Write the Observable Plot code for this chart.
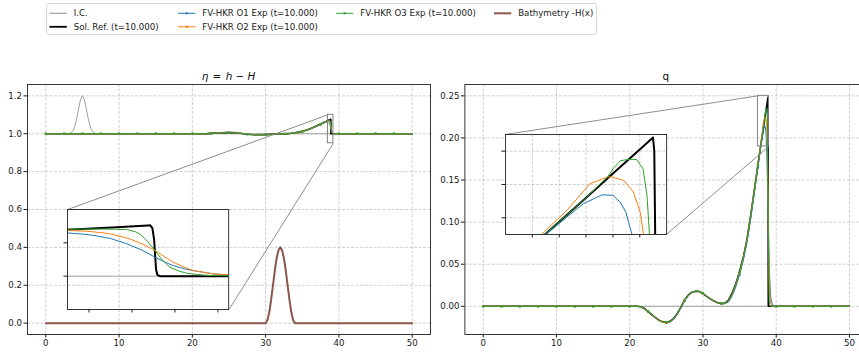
<!DOCTYPE html>
<html><head><meta charset="utf-8">
<script src="https://cdn.jsdelivr.net/npm/d3@7"></script>
<script src="https://cdn.jsdelivr.net/npm/@observablehq/plot@0.6"></script>
<style>
html,body{margin:0;padding:0;background:#fff;}
#root{position:relative;width:859px;height:352px;overflow:hidden;font-family:"DejaVu Sans",sans-serif;color:#000;}
#root svg{position:absolute;}
.title{position:absolute;font-size:10.4px;white-space:nowrap;transform:translateX(-50%);line-height:1;font-family:"DejaVu Sans",sans-serif;color:#111;}
</style></head>
<body><div id="root"></div>
<script>
// ---------------- data ----------------
const xTicks = [0, 10, 20, 30, 40, 50];
const etaTicks = [0, 0.2, 0.4, 0.6, 0.8, 1.0, 1.2];
const qTicks = [0, 0.05, 0.10, 0.15, 0.20, 0.25];
const etaInsetXTicks = [38.6, 38.8, 39.0, 39.2];
const etaInsetYTicks = [1.0, 1.05];
const qInsetXTicks = [37.75, 38.0, 38.25, 38.5, 38.75];
const qInsetYTicks = [0.20, 0.22, 0.24];

const labels = ["I.C.", "Sol. Ref. (t=10.000)", "FV-HKR O1 Exp (t=10.000)", "FV-HKR O2 Exp (t=10.000)", "FV-HKR O3 Exp (t=10.000)", "Bathymetry -H(x)"];

// initial condition
const icX = [0, 2.5, 2.9, 3.25, 3.5, 3.75, 4, 4.25, 4.5, 4.75, 5, 5.25, 5.5, 5.75, 6, 6.25, 6.5, 6.75, 7.1, 7.5, 50];
const icEta = [1, 1, 1.0, 1.002, 1.007, 1.019, 1.045, 1.086, 1.138, 1.182, 1.2, 1.182, 1.138, 1.086, 1.045, 1.019, 1.007, 1.002, 1.0, 1, 1];
const icQX = [0, 50];
const icQ = [0, 0];

// bathymetry
const bathX = [0, 30, 30.25, 30.5, 30.75, 31, 31.25, 31.5, 31.75, 32, 32.25, 32.5, 32.75, 33, 33.25, 33.5, 33.75, 34, 50];
const bathY = [0, 0, 0.0152, 0.0586, 0.1235, 0.2, 0.2765, 0.3414, 0.3848, 0.4, 0.3848, 0.3414, 0.2765, 0.2, 0.1235, 0.0586, 0.0152, 0, 0];

// common x of the smooth part
const baseX = [0, 2.5, 5, 7.5, 10, 12.5, 15, 17.5, 20, 21, 21.5, 22, 22.5, 23, 23.5, 24, 24.5, 25, 25.5, 26, 26.5, 27, 27.5, 28, 28.5, 29, 29.5, 30, 30.5, 31, 31.5, 32, 32.5, 33, 33.5, 34, 34.5, 35, 35.5, 36, 36.5, 37, 37.5];
const tailX = [40, 42.5, 45, 47.5, 50];
const tailQ = [0, 0, 0, 0, 0];
const tailEta = [1, 1, 1, 1, 1];

// reference solution
const refBaseQ = [0, 0, 0, 0, 0, 0, 0, 0, 0, 0, -0.0006, -0.0025, -0.0062, -0.0098, -0.0135, -0.0166, -0.0185, -0.0189, -0.0179, -0.0145, -0.0085, -0.001, 0.0075, 0.0135, 0.0168, 0.018, 0.0175, 0.0152, 0.0118, 0.0088, 0.0062, 0.0042, 0.0032, 0.0038, 0.0075, 0.016, 0.027, 0.041, 0.058, 0.079, 0.107, 0.137, 0.168];
const refBaseEta = [1, 1, 1, 1, 1, 1, 1, 1, 1, 1.0, 1.0002, 1.0008, 1.002, 1.0031, 1.0043, 1.0053, 1.0059, 1.006, 1.0057, 1.0046, 1.0027, 1.0003, 0.9977, 0.9958, 0.9947, 0.9943, 0.9945, 0.9952, 0.9963, 0.9972, 0.998, 0.9987, 0.9993, 1.0008, 1.0025, 1.005, 1.0085, 1.0128, 1.018, 1.0245, 1.033, 1.042, 1.051];
const refFrontX = [37.867, 38, 38.25, 38.5, 38.75, 38.873, 38.885, 38.895, 38.903, 38.908, 38.912, 38.918, 38.93, 39];
const refFrontQ = [0.19, 0.1977, 0.2121, 0.2266, 0.241, 0.2482, 0.24, 0.18, 0.09, 0.035, 0.01, 0.002, 0, 0];
const refFrontEta = [1.0582, 1.0605, 1.065, 1.0698, 1.0738, 1.076, 1.0762, 1.072, 1.055, 1.03, 1.01, 1.002, 1.0, 1.0];

// FV-HKR O1
const o1BaseQ = [0, 0, 0, 0, 0, 0, 0, 0, 0, 0, -0.0005, -0.0022, -0.0058, -0.0095, -0.0133, -0.0167, -0.019, -0.0197, -0.0188, -0.0155, -0.0095, -0.002, 0.0066, 0.0128, 0.0163, 0.0177, 0.0174, 0.0152, 0.012, 0.0091, 0.0066, 0.0046, 0.0034, 0.0031, 0.0052, 0.0125, 0.0235, 0.0375, 0.0545, 0.0755, 0.103, 0.134, 0.165];
const o1BaseEta = [1, 1, 1, 1, 1, 1, 1, 1, 1, 1.0, 1.0002, 1.0007, 1.0018, 1.003, 1.0042, 1.0053, 1.006, 1.0062, 1.0059, 1.0049, 1.003, 1.0006, 0.998, 0.996, 0.9949, 0.9944, 0.9946, 0.9952, 0.9962, 0.9971, 0.9979, 0.9986, 0.9991, 1.0003, 1.0018, 1.004, 1.0075, 1.0118, 1.017, 1.0235, 1.0318, 1.0405, 1.0485];
const o1FrontX = [37.867, 38.07, 38.225, 38.4, 38.5, 38.567, 38.62, 38.677, 38.7, 38.775, 38.85, 38.907, 38.95, 38.99, 39.05, 39.085, 39.15, 39.178, 39.25, 39.4, 39.6, 39.8];
const o1FrontQ = [0.1895, 0.2004, 0.2085, 0.2138, 0.2135, 0.2095, 0.2035, 0.19, 0.183, 0.158, 0.13, 0.108, 0.088, 0.072, 0.05, 0.04, 0.025, 0.02, 0.011, 0.004, 0.001, 0];
const o1FrontEta = [1.0555, 1.059, 1.0615, 1.0656, 1.0648, 1.0632, 1.0612, 1.058, 1.0565, 1.0487, 1.0385, 1.0285, 1.0215, 1.016, 1.0105, 1.0083, 1.005, 1.0034, 1.0015, 1.0004, 1.0001, 1.0];

// FV-HKR O2
const o2BaseQ = [0, 0, 0, 0, 0, 0, 0, 0, 0, 0, -0.0006, -0.0025, -0.0062, -0.0099, -0.0137, -0.017, -0.019, -0.0194, -0.0184, -0.0149, -0.0088, -0.0012, 0.0073, 0.0134, 0.0167, 0.0179, 0.0175, 0.0152, 0.0119, 0.0089, 0.0063, 0.0043, 0.0032, 0.0036, 0.0068, 0.0148, 0.0262, 0.0402, 0.0575, 0.0788, 0.107, 0.1375, 0.1685];
const o2BaseEta = [1, 1, 1, 1, 1, 1, 1, 1, 1, 1.0, 1.0002, 1.0008, 1.002, 1.0031, 1.0044, 1.0054, 1.006, 1.0061, 1.0058, 1.0047, 1.0028, 1.0004, 0.9978, 0.9958, 0.9947, 0.9943, 0.9945, 0.9952, 0.9963, 0.9972, 0.998, 0.9987, 0.9992, 1.0006, 1.0023, 1.0047, 1.0082, 1.0125, 1.0177, 1.0243, 1.0328, 1.0418, 1.0505];
const o2FrontX = [37.867, 38.07, 38.287, 38.45, 38.49, 38.6, 38.69, 38.754, 38.785, 38.85, 38.907, 38.95, 38.992, 39.05, 39.085, 39.15, 39.178, 39.25, 39.4, 39.6];
const o2FrontQ = [0.192, 0.2044, 0.2205, 0.2245, 0.2245, 0.2225, 0.2155, 0.2034, 0.19, 0.155, 0.115, 0.085, 0.06, 0.035, 0.024, 0.011, 0.008, 0.003, 0.0005, 0];
const o2FrontEta = [1.058, 1.062, 1.066, 1.068, 1.0688, 1.0672, 1.064, 1.059, 1.0565, 1.048, 1.0386, 1.0295, 1.021, 1.0125, 1.0084, 1.0048, 1.0034, 1.002, 1.0005, 1.0];

// FV-HKR O3
const o3BaseQ = [0, 0, 0, 0, 0, 0, 0, 0, 0, 0, -0.0005, -0.0024, -0.006, -0.0097, -0.0133, -0.0164, -0.0183, -0.0188, -0.0178, -0.0145, -0.0086, -0.0012, 0.0073, 0.0133, 0.0167, 0.0179, 0.0175, 0.0153, 0.012, 0.009, 0.0064, 0.0043, 0.0032, 0.0036, 0.007, 0.0153, 0.0268, 0.0408, 0.0578, 0.0788, 0.1068, 0.1368, 0.1678];
const o3BaseEta = [1, 1, 1, 1, 1, 1, 1, 1, 1, 1.0, 1.0002, 1.0008, 1.002, 1.0031, 1.0043, 1.0053, 1.0059, 1.006, 1.0057, 1.0046, 1.0027, 1.0003, 0.9977, 0.9958, 0.9947, 0.9943, 0.9945, 0.9952, 0.9963, 0.9972, 0.998, 0.9987, 0.9993, 1.0007, 1.0024, 1.0049, 1.0084, 1.0127, 1.0179, 1.0244, 1.0329, 1.0419, 1.0508];
const o3FrontX = [37.867, 38, 38.25, 38.45, 38.5, 38.57, 38.65, 38.72, 38.78, 38.817, 38.84, 38.87, 38.907, 38.94, 38.976, 39.02, 39.054, 39.1, 39.163, 39.25, 39.5];
const o3FrontQ = [0.19, 0.1977, 0.2121, 0.2245, 0.2293, 0.2343, 0.2351, 0.235, 0.2295, 0.2135, 0.19, 0.155, 0.11, 0.068, 0.035, 0.014, 0.006, 0.002, 0.0005, 0.0001, 0];
const o3FrontEta = [1.0581, 1.0604, 1.0652, 1.069, 1.0704, 1.0707, 1.0707, 1.0704, 1.0697, 1.0665, 1.0625, 1.053, 1.0386, 1.0245, 1.0134, 1.0075, 1.0045, 1.0025, 1.001, 1.0005, 1.0];

// zoom windows and inset placement (axes fraction: left, bottom, width, height)
const etaZoom = {x1: 38.5, x2: 39.25, y1: 0.95, y2: 1.10};
const qZoom = {x1: 37.5, x2: 39.0, y1: 0.19, y2: 0.25};
const etaInsetFrac = [0.1, 0.1, 0.4, 0.4];
const qInsetFrac = [0.1, 0.4, 0.4, 0.4];

const xDomain = [-2.5, 52.5];
const etaDomain = [-0.06, 1.26];
const qDomain = [-0.0335, 0.2635];

// ---------------- drawing ----------------
const C = {ic: "#a0a0a0", ref: "#000000", o1: "#1f77b4", o2: "#ff7f0e", o3: "#2ca02c", bath: "#8c564b"};
const FS = 8.65;
const root = document.getElementById("root");
const st = (bg) => ({fontFamily: "DejaVu Sans, sans-serif", fontSize: FS + "px", background: bg, overflow: "visible", color: "#1a1a1a"});
const gridOpts = {stroke: "#b0b0b0", strokeOpacity: 0.75, strokeWidth: 0.8, strokeDasharray: "3,1.5"};
const pts = (xs, ys) => xs.map((x, i) => ({x, y: ys[i]}));

const etaSeries = {
  ic: pts(icX, icEta),
  ref: pts(baseX.concat(refFrontX, tailX), refBaseEta.concat(refFrontEta, tailEta)),
  o1: pts(baseX.concat(o1FrontX, tailX), o1BaseEta.concat(o1FrontEta, tailEta)),
  o2: pts(baseX.concat(o2FrontX, tailX), o2BaseEta.concat(o2FrontEta, tailEta)),
  o3: pts(baseX.concat(o3FrontX, tailX), o3BaseEta.concat(o3FrontEta, tailEta)),
  bath: pts(bathX, bathY)
};
const qSeries = {
  ic: pts(icQX, icQ),
  ref: pts(baseX.concat(refFrontX, tailX), refBaseQ.concat(refFrontQ, tailQ)),
  o1: pts(baseX.concat(o1FrontX, tailX), o1BaseQ.concat(o1FrontQ, tailQ)),
  o2: pts(baseX.concat(o2FrontX, tailX), o2BaseQ.concat(o2FrontQ, tailQ)),
  o3: pts(baseX.concat(o3FrontX, tailX), o3BaseQ.concat(o3FrontQ, tailQ))
};

function seriesMarks(d, clip, refW) {
  const m = [];
  m.push(Plot.line(d.ic, {x: "x", y: "y", stroke: C.ic, strokeWidth: 1, clip}));
  m.push(Plot.line(d.ref, {x: "x", y: "y", stroke: C.ref, strokeWidth: refW, clip}));
  for (const k of ["o1", "o2", "o3"]) {
    m.push(Plot.line(d[k], {x: "x", y: "y", stroke: C[k], strokeWidth: 1, clip}));
    if (!clip) m.push(Plot.dot(d[k], {filter: p => p.x % 2.5 === 0 && p.x < 50, x: "x", y: "y", fill: C[k], r: 1.2, symbol: "square"}));
  }
  if (d.bath) m.push(Plot.line(d.bath, {x: "x", y: "y", stroke: C.bath, strokeWidth: 2, clip}));
  return m;
}

function makeMain(cfg) {
  const xd = xDomain, yd = cfg.yDomain, f = cfg.insetFrac;
  const ins = {
    x1: xd[0] + f[0] * (xd[1] - xd[0]), x2: xd[0] + (f[0] + f[2]) * (xd[1] - xd[0]),
    y1: yd[0] + f[1] * (yd[1] - yd[0]), y2: yd[0] + (f[1] + f[3]) * (yd[1] - yd[0])
  };
  const z = cfg.zoom;
  const plot = Plot.plot({
    width: cfg.width, height: 352, marginTop: 84, marginBottom: 18, marginLeft: cfg.marginLeft, marginRight: cfg.marginRight,
    style: st("transparent"),
    x: {domain: xd}, y: {domain: yd},
    marks: [
      Plot.gridX(xTicks, gridOpts),
      Plot.gridY(cfg.yTicks, gridOpts),
      Plot.axisX(xTicks, {tickSize: 3.5, tickPadding: 2, tickFormat: "d", label: null}),
      Plot.axisY(cfg.yTicks, {tickSize: 3.5, tickPadding: 2, tickFormat: cfg.yFmt, label: null}),
      ...seriesMarks(cfg.data, false, 1.6),
      Plot.rect([z], {x1: "x1", x2: "x2", y1: "y1", y2: "y2", fill: "none", stroke: "#808080", strokeWidth: 1}),
      Plot.link([{a: ins.x1, b: ins.y2, c: z.x1, d: z.y2}, {a: ins.x2, b: ins.y1, c: z.x2, d: z.y1}],
        {x1: "a", y1: "b", x2: "c", y2: "d", stroke: "#808080", strokeWidth: 0.9}),
      Plot.frame({stroke: "#222", strokeWidth: 0.9})
    ]
  });
  plot.style.left = cfg.left + "px";
  plot.style.top = "0px";
  root.appendChild(plot);

  const sx = plot.scale("x"), sy = plot.scale("y");
  const px1 = sx.apply(ins.x1), px2 = sx.apply(ins.x2), py1 = sy.apply(ins.y2), py2 = sy.apply(ins.y1);
  const marks = [];
  if (cfg.insetGrid) {
    marks.push(Plot.gridX(cfg.insetXTicks, gridOpts), Plot.gridY(cfg.insetYTicks, gridOpts));
  }
  marks.push(...seriesMarks(cfg.data, true, 2));
  marks.push(
    Plot.axisX(cfg.insetXTicks, {tickSize: 3.5, tickFormat: () => "", label: null}),
    Plot.axisY(cfg.insetYTicks, {tickSize: 3.5, tickFormat: () => "", label: null}),
    Plot.frame({stroke: "#222", strokeWidth: 0.9})
  );
  const inset = Plot.plot({
    width: px2 - px1, height: py2 - py1, margin: 0,
    style: st(cfg.insetBg),
    x: {domain: [z.x1, z.x2]}, y: {domain: [z.y1, z.y2]},
    marks
  });
  inset.style.left = (cfg.left + px1) + "px";
  inset.style.top = py1 + "px";
  root.appendChild(inset);

  const t = document.createElement("div");
  t.className = "title";
  t.innerHTML = cfg.title;
  t.style.left = (cfg.left + (sx.range[0] + sx.range[1]) / 2) + "px";
  t.style.top = "71px";
  root.appendChild(t);
}

makeMain({left: 0, width: 440, marginLeft: 27, marginRight: 10, yDomain: etaDomain, yTicks: etaTicks, yFmt: d3.format(".1f"),
  data: etaSeries, zoom: etaZoom, insetFrac: etaInsetFrac, insetXTicks: etaInsetXTicks, insetYTicks: etaInsetYTicks,
  insetGrid: false, insetBg: "transparent",
  title: "<i>η</i>&#8202; = &#8202;<i>h</i> − <i>H</i>"});
makeMain({left: 432, width: 441, marginLeft: 32.4, marginRight: 5.7, yDomain: qDomain, yTicks: qTicks, yFmt: d3.format(".2f"),
  data: qSeries, zoom: qZoom, insetFrac: qInsetFrac, insetXTicks: qInsetXTicks, insetYTicks: qInsetYTicks,
  insetGrid: true, insetBg: "white",
  title: "q"});

// ---------------- legend ----------------
const legendItems = [
  {label: labels[0], color: C.ic, w: 1.2, marker: false, col: 0, row: 0},
  {label: labels[1], color: C.ref, w: 1.8, marker: false, col: 0, row: 1},
  {label: labels[2], color: C.o1, w: 1, marker: true, col: 1, row: 0},
  {label: labels[3], color: C.o2, w: 1, marker: true, col: 1, row: 1},
  {label: labels[4], color: C.o3, w: 1, marker: true, col: 2, row: 0},
  {label: labels[5], color: C.bath, w: 2, marker: false, col: 3, row: 0}
];
const colX = [49.5, 178, 336, 494];
const rowY = [13.3, 26.8];
const lg = d3.create("svg").attr("width", 859).attr("height", 40).style("left", "0px").style("top", "0px");
lg.append("rect").attr("x", 46.5).attr("y", 3.5).attr("width", 550).attr("height", 31).attr("rx", 2.5)
  .attr("fill", "white").attr("stroke", "#d6d6d6").attr("stroke-width", 1);
const g = lg.selectAll("g").data(legendItems).join("g")
  .attr("transform", d => `translate(${colX[d.col]},${rowY[d.row]})`);
g.append("line").attr("x1", 0).attr("x2", 17.3).attr("y1", 0).attr("y2", 0)
  .attr("stroke", d => d.color).attr("stroke-width", d => d.w);
g.filter(d => d.marker).append("rect").attr("x", 7.6).attr("y", -1.05).attr("width", 2.1).attr("height", 2.1).attr("fill", d => d.color);
g.append("text").attr("x", 24.2).attr("y", 0).attr("dy", "0.35em")
  .attr("font-family", "DejaVu Sans, sans-serif").attr("font-size", FS).attr("fill", "#1a1a1a")
  .text(d => d.label);
root.appendChild(lg.node());
</script></body></html>
